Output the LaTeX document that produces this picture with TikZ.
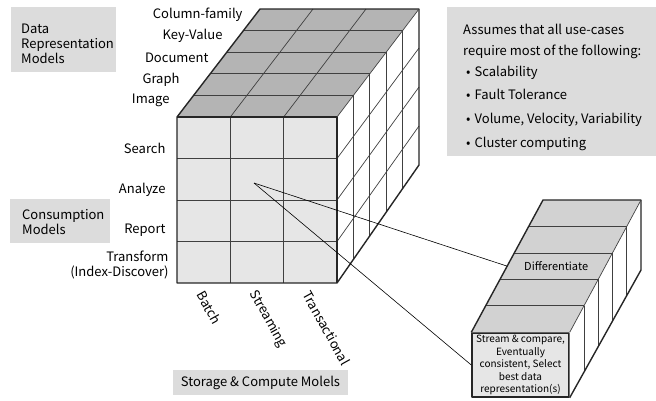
\documentclass[tikz,border=0pt]{standalone}
\usepackage{fontspec}
\setmainfont{Noto Sans CJK KR}
\usetikzlibrary{calc}

\definecolor{topgray}{HTML}{B4B4B4}
\definecolor{frontgray}{HTML}{E6E6E6}
\definecolor{boxgray}{HTML}{DCDCDC}
\definecolor{slicegray}{HTML}{D2D2D2}

\begin{document}
\begin{tikzpicture}[x=1pt, y=-1pt, font=\fontsize{13}{15}\selectfont,
    edge/.style={line width=1.4pt, draw=black!85, line join=round},
    grid/.style={line width=0.7pt, draw=black!75},
    boxtext/.style={anchor=north west, align=left, inner sep=0pt},
    dim/.style={anchor=east, align=right},
    axis/.style={anchor=west, rotate=-61}]
  \useasboundingbox (0,0) rectangle (656,400);

  % Cube corners
  %
  % f -> front face
  % b -> back
  \path
  (177,117) coordinate(ftl)
  (337,117) coordinate(ftr)
  (177,283) coordinate(fbl)
  (337,283) coordinate(fbr)
  (260,9) coordinate(btl)
  (419,9) coordinate(btr)
  (419,165) coordinate(bbr);

  % Faces
  \fill[topgray] (ftl) -- (btl) -- (btr) -- (ftr) -- cycle;
  \fill[white] (ftr) -- (btr) -- (bbr) -- (fbr) -- cycle;
  \fill[frontgray] (ftl) rectangle (fbr);

  % Grid on the faces
  \foreach \i in {1,2} {
    \draw[grid] ($(ftl)!\i/3!(ftr)$) -- ($(btl)!\i/3!(btr)$);
    \draw[grid] ($(ftl)!\i/3!(ftr)$) -- ($(fbl)!\i/3!(fbr)$);
  }
  \foreach \j in {1,...,4} {
    \draw[grid] ($(ftl)!\j/5!(btl)$) -- ($(ftr)!\j/5!(btr)$);
    \draw[grid] ($(ftr)!\j/5!(btr)$) -- ($(fbr)!\j/5!(bbr)$);
  }
  \foreach \j in {1,2,3} {
    \draw[grid] ($(ftl)!\j/4!(fbl)$) -- ($(ftr)!\j/4!(fbr)$);
    \draw[grid] ($(ftr)!\j/4!(fbr)$) -- ($(btr)!\j/4!(bbr)$);
  }

  % Outline of the cube
  \draw[edge] (fbl) -- (ftl) -- (btl) -- (btr) -- (bbr) -- (fbr) -- cycle;
  \draw[edge] (ftl) -- (ftr) -- (fbr);
  \draw[grid] (ftr) -- (btr);

  % Slice taken out of the cube
  \node[draw, edge, fill=frontgray, minimum width=97pt, minimum height=64pt,
        inner sep=1pt, align=center, font=\fontsize{10}{12.5}\selectfont]
        (select) at (520.5,365)
        {Stream \& compare,\\Eventually\\consistent, Select\\best data\\representation(s)};

  \path
  (543,200) coordinate(sbtl)
  (641,200) coordinate(sbtr)
  (641,270) coordinate(sbbr);

  \fill[slicegray] (select.north west) -- (sbtl) -- (sbtr) -- (select.north east) -- cycle;
  \fill[white] (select.north east) -- (sbtr) -- (sbbr) -- (select.south east) -- cycle;
  \foreach \j in {1,...,4} {
    \draw[grid] ($(select.north west)!\j/5!(sbtl)$) -- ($(select.north east)!\j/5!(sbtr)$);
    \draw[grid] ($(select.north east)!\j/5!(sbtr)$) -- ($(select.south east)!\j/5!(sbbr)$);
  }
  \draw[edge] (select.north west) -- (sbtl) -- (sbtr) -- (sbbr) -- (select.south east);
  \draw[grid] (select.north east) -- (sbtr);

  \node[font=\fontsize{11}{13}\selectfont] (diff) at ($(select.north west)!0.5!(sbtr)$) {Differentiate};

  % Lines from the cell to the slice
  \path
  (254,183) coordinate(cell)
  ($(select.north west)!0.5!(sbtl)$) coordinate(slice);
  \draw[line width=0.6pt] (cell) -- (slice);
  \draw[line width=0.6pt] (cell) -- (select.west);

  % Data representation labels
  \node[dim] (colfam) at (246,15) {Column-family};
  \node[dim] (keyval) at (226,36) {Key-Value};
  \node[dim] (doc) at (212,58) {Document};
  \node[dim] (graph) at (183,80) {Graph};
  \node[dim] (image) at (173,100) {Image};

  % Consumption labels
  \node[dim] (search) at (169,148) {Search};
  \node[dim] (analyze) at (169,190) {Analyze};
  \node[dim] (report) at (169,230) {Report};
  \node[dim] (transform) at (172,265) {Transform\\(Index-Discover)};

  % Storage & compute labels
  \node[axis] (batch) at (199,289) {Batch};
  \node[axis] (stream) at (251,289) {Streaming};
  \node[axis] (trans) at (305,289) {Transactional};

  % Model boxes
  \fill[boxgray] (11,7) rectangle (116,72);
  \node[boxtext] (datarep) at (21,23.5) {Data\\Representation\\Models};

  \fill[boxgray] (10,199) rectangle (110,243);
  \node[boxtext] (consume) at (22,209) {Consumption\\Models};

  \node[fill=boxgray, minimum width=175pt, minimum height=25pt, inner sep=0pt]
    (storage) at (260.5,382.5) {Storage \& Compute Molels};

  % Assumptions
  \fill[boxgray] (447,7) rectangle (656,156);
  \node[boxtext, font=\fontsize{13}{21}\selectfont] (assume) at (463,24)
    {Assumes that all use-cases\\require most of the following:\\
     \hspace*{3pt}\textbullet\hspace{4pt}Scalability\\[2pt]
     \hspace*{3pt}\textbullet\hspace{4pt}Fault Tolerance\\[3pt]
     \hspace*{3pt}\textbullet\hspace{4pt}Volume, Velocity, Variability\\[3pt]
     \hspace*{3pt}\textbullet\hspace{4pt}Cluster computing};
\end{tikzpicture}
\end{document}
